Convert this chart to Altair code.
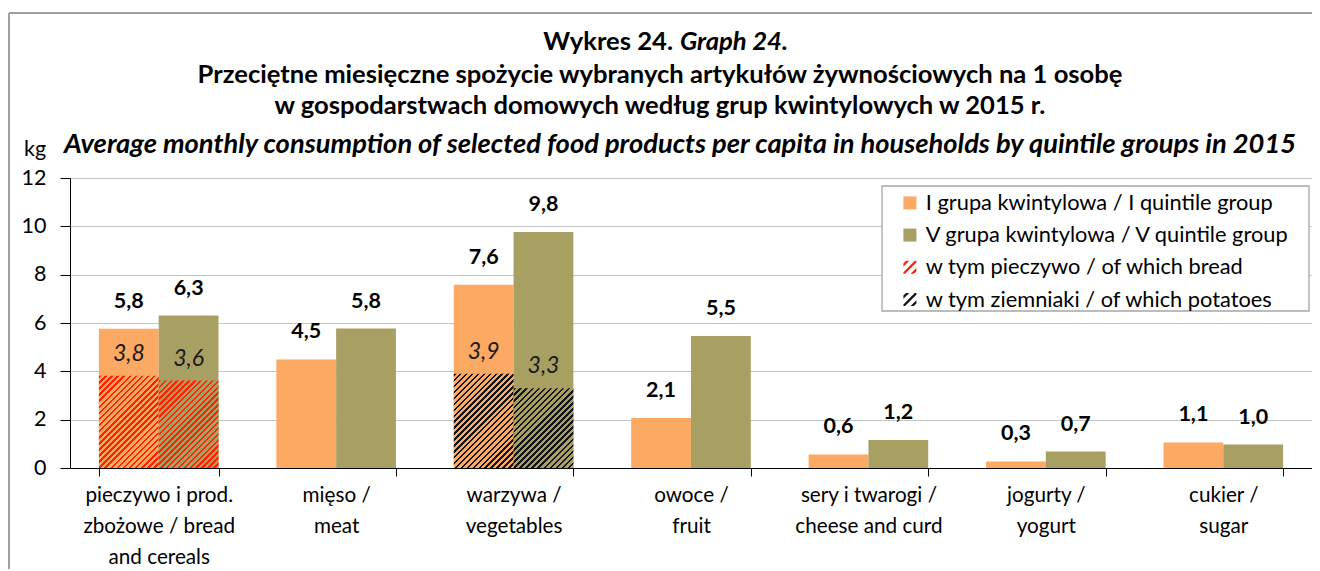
import altair as alt
import pandas as pd

# ---------------- data ----------------
categories = [
    "pieczywo i prod.|zbożowe / bread|and cereals",
    "mięso /|meat",
    "warzywa /|vegetables",
    "owoce /|fruit",
    "sery i twarogi /|cheese and curd",
    "jogurty /|yogurt",
    "cukier /|sugar",
]
group_I = [5.76, 4.49, 7.58, 2.07, 0.56, 0.27, 1.06]
group_V = [6.31, 5.77, 9.77, 5.46, 1.16, 0.68, 0.97]
bread_I = 3.82
bread_V = 3.62
potatoes_I = 3.90
potatoes_V = 3.30
legend_labels = [
    "I grupa kwintylowa / I quintile group",
    "V grupa kwintylowa / V quintile group",
    "w tym pieczywo / of which bread",
    "w tym ziemniaki / of which potatoes",
]
groups = ["I", "V"]
title_1a = "Wykres 24."
title_1b = "Graph 24."
title_2 = "Przeciętne miesięczne spożycie wybranych artykułów żywnościowych na 1 osobę"
title_3 = "w gospodarstwach domowych według grup kwintylowych w 2015 r."
title_4 = "Average monthly consumption of selected food products per capita in households by quintile groups in 2015"
unit_label = "kg"
y_ticks = [0, 2, 4, 6, 8, 10, 12]

# ---------------- style ----------------
FONT = "Lato"
ORANGE = "#FCA964"
OLIVE = "#A89F62"
RED = "#FF2200"
BLACK = "#141414"
W, H = 1242, 290
Y_MAX = 12
P_INNER, P_OUTER = 0.326, 0.163


def fmt(v):
    return f"{v:.1f}".replace(".", ",")


bars = pd.DataFrame(
    [
        {"cat": c, "grp": "I", "value": v, "series": legend_labels[0], "label": fmt(v)}
        for c, v in zip(categories, group_I)
    ]
    + [
        {"cat": c, "grp": "V", "value": v, "series": legend_labels[1], "label": fmt(v)}
        for c, v in zip(categories, group_V)
    ]
)

hatch_rows = [
    {"cat": categories[0], "grp": "I", "value": bread_I, "base": ORANGE, "line": RED},
    {"cat": categories[0], "grp": "V", "value": bread_V, "base": OLIVE, "line": RED},
    {"cat": categories[2], "grp": "I", "value": potatoes_I, "base": ORANGE, "line": BLACK},
    {"cat": categories[2], "grp": "V", "value": potatoes_V, "base": OLIVE, "line": BLACK},
]
for r in hatch_rows:
    r["label"] = fmt(r["value"])

x_scale = alt.Scale(domain=categories, paddingInner=P_INNER, paddingOuter=P_OUTER)
xo_scale = alt.Scale(domain=groups, paddingInner=0, paddingOuter=0)
y_scale = alt.Scale(domain=[0, Y_MAX], nice=False)
color_scale = alt.Scale(domain=legend_labels, range=[ORANGE, OLIVE, RED, BLACK])

stripe_path = (
    "M -1 -0.6 L -0.6 -1 L -0.1 -1 L -1 -0.1 Z "
    "M -1 0.75 L 0.75 -1 L 1 -1 L 1 -0.75 L -0.75 1 L -1 1 Z "
    "M 0.1 1 L 1 0.1 L 1 0.6 L 0.6 1 Z"
)
leg = dict(
    title=None,
    orient="none",
    legendX=829,
    legendY=14,
    symbolSize=169,
    symbolOpacity=1,
    symbolStrokeWidth=0,
    labelFont=FONT,
    labelFontSize=21.8,
    labelColor="black",
    labelOffset=5,
    labelLimit=600,
    rowPadding=9.2,
    padding=0,
    zindex=2,
)

x_enc = alt.X(
    "cat:N",
    scale=x_scale,
    sort=categories,
    axis=alt.Axis(
        title=None,
        labelAngle=0,
        tickBand="extent",
        tickSize=8,
        tickColor="black",
        domainColor="black",
        labelExpr="split(datum.label, '|')",
        labelLineHeight=31,
        labelFontSize=20.7,
        labelBaseline="top",
        labelPadding=9,
        labelColor="black",
        labelFont=FONT,
        grid=False,
    ),
)
xo_enc = alt.XOffset("grp:N", scale=xo_scale)
y_enc = alt.Y(
    "value:Q",
    scale=y_scale,
    axis=alt.Axis(
        title=None,
        values=y_ticks,
        tickSize=10,
        tickColor="black",
        domainColor="black",
        labelFontSize=21.5,
        labelPadding=14,
        labelColor="black",
        labelFont=FONT,
        gridColor="#c4c4c4",
        gridWidth=1,
    ),
)

bar_layer = alt.Chart(bars).mark_bar().encode(
    x=x_enc,
    xOffset=xo_enc,
    y=y_enc,
    color=alt.Color("series:N", scale=color_scale, legend=alt.Legend(**leg)),
)

# hatched "of which" bars - diagonal stripes drawn as a hard-stop linear gradient
step = W / (len(categories) - P_INNER + 2 * P_OUTER)
bar_w = step * (1 - P_INNER) / 2
px_per_unit = H / Y_MAX


def hatch(base, line, w, h, period=6.0, frac=0.42):
    s = (w + h) / (w * w + h * h)
    n = max(1, round((w + h) / period))
    stops = []
    for i in range(n):
        a = i / n
        b = (i + frac) / n
        c = (i + 1) / n
        stops += [
            alt.GradientStop(color=line, offset=a),
            alt.GradientStop(color=line, offset=b),
            alt.GradientStop(color=base, offset=b),
            alt.GradientStop(color=base, offset=c),
        ]
    return alt.LinearGradient(gradient="linear", stops=stops, x1=0, y1=0, x2=w * s, y2=h * s)


hatch_layers = []
for r in hatch_rows:
    h = r["value"] * px_per_unit
    hatch_layers.append(
        alt.Chart(pd.DataFrame([r])).mark_bar(color=hatch(r["base"], r["line"], bar_w, h)).encode(
            x=alt.X("cat:N", scale=x_scale, sort=categories),
            xOffset=xo_enc,
            y=alt.Y("value:Q", scale=y_scale),
        )
    )

value_text = alt.Chart(bars).mark_text(
    font=FONT, fontSize=21.5, fontWeight="bold", color="black", baseline="middle", dy=-27
).encode(
    x=alt.X("cat:N", scale=x_scale, sort=categories),
    xOffset=xo_enc,
    y=alt.Y("value:Q", scale=y_scale),
    text="label:N",
)

inner_text = alt.Chart(pd.DataFrame(hatch_rows)).mark_text(
    font=FONT, fontSize=23, fontStyle="italic", color="#1a1a1a", baseline="middle", dy=-22
).encode(
    x=alt.X("cat:N", scale=x_scale, sort=categories),
    xOffset=xo_enc,
    y=alt.Y("value:Q", scale=y_scale),
    text="label:N",
)

one = alt.Data(values=[{}])

legend_box = alt.Chart(one).mark_rect(fill="white", stroke="#a6a6a6", strokeWidth=1.3).encode(
    x=alt.value(812), x2=alt.value(1239), y=alt.value(8), y2=alt.value(133)
)

legend_layer = alt.Chart(pd.DataFrame({"series": legend_labels})).mark_point(
    filled=True, opacity=0
).encode(
    color=alt.Color("series:N", scale=color_scale, legend=alt.Legend(**leg)),
    shape=alt.Shape(
        "series:N",
        scale=alt.Scale(domain=legend_labels, range=["square", "square", stripe_path, stripe_path]),
        legend=alt.Legend(**leg),
    ),
)

frame_top = alt.Chart(one).mark_rule(color="#a0a0a0", strokeWidth=2).encode(
    x=alt.value(-61), x2=alt.value(W), y=alt.value(-165)
)
frame_left = alt.Chart(one).mark_rule(color="#a0a0a0", strokeWidth=2).encode(
    x=alt.value(-61), y=alt.value(-165), y2=alt.value(400)
)


def txt(text, x, y, align="center", style="normal", weight="bold", size=25.6):
    return alt.Chart(one).mark_text(
        font=FONT, fontSize=size, fontWeight=weight, fontStyle=style, align=align,
        baseline="middle", color="black",
    ).encode(x=alt.value(x), y=alt.value(y), text=alt.value(text))


titles = [
    txt(title_1a, 603, -136, align="right"),
    txt(title_1b, 610, -136, align="left", style="italic"),
    txt(title_2, 590, -103),
    txt(title_3, 590, -72),
    txt(title_4, 610, -33, style="italic", size=27.3),
    txt(unit_label, -35, -28, weight="normal", size=21.5),
]

chart = alt.layer(
    frame_top,
    frame_left,
    bar_layer,
    *hatch_layers,
    value_text,
    inner_text,
    legend_box,
    legend_layer,
    *titles,
).properties(
    width=W,
    height=H,
    autosize=alt.AutoSizeParams(type="none"),
    padding={"left": 62, "top": 170, "right": 0, "bottom": 101},
).configure_view(strokeWidth=0).configure(font=FONT)

chart.save("out.html", embed_options={"renderer": "svg", "actions": False})
